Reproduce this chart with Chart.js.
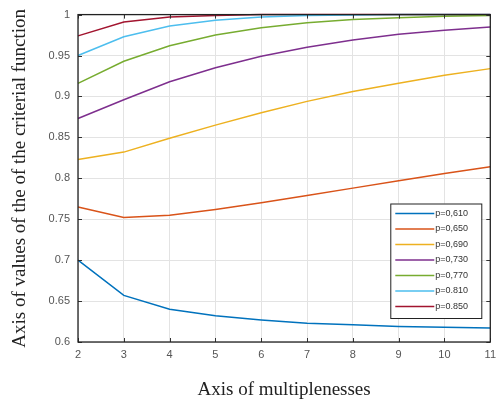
<!DOCTYPE html>
<html>
<head>
<meta charset="utf-8">
<script src="https://cdn.jsdelivr.net/npm/chart.js@4/dist/chart.umd.min.js"></script>
<style>
  html, body { margin: 0; padding: 0; background: #fff; }
  #wrap { width: 502px; height: 405px; }
</style>
</head>
<body>
<div id="wrap"><canvas id="chart" width="502" height="405"></canvas></div>
<script>
// multipleness values on the x axis
const multipleness = [2, 3, 4, 5, 6, 7, 8, 9, 10, 11];

// criterial function values, one array per p
const p610 = [0.700, 0.657, 0.640, 0.632, 0.627, 0.623, 0.621, 0.619, 0.618, 0.617];
const p650 = [0.765, 0.752, 0.755, 0.762, 0.770, 0.779, 0.788, 0.797, 0.806, 0.814];
const p690 = [0.823, 0.832, 0.849, 0.865, 0.880, 0.894, 0.906, 0.916, 0.926, 0.934];
const p730 = [0.873, 0.896, 0.918, 0.935, 0.949, 0.960, 0.969, 0.976, 0.981, 0.985];
const p770 = [0.916, 0.943, 0.962, 0.975, 0.984, 0.990, 0.994, 0.996, 0.998, 0.999];
const p810 = [0.950, 0.973, 0.986, 0.993, 0.997, 0.999, 0.9995, 1.0, 1.0, 1.0];
const p850 = [0.974, 0.991, 0.997, 0.999, 1.0, 1.0, 1.0, 1.0, 1.0, 1.0];

const seriesLabels = ['p=0,610', 'p=0,650', 'p=0,690', 'p=0,730', 'p=0,770', 'p=0.810', 'p=0.850'];
const seriesValues = [p610, p650, p690, p730, p770, p810, p850];
const seriesColors = ['#0072BD', '#D95319', '#EDB120', '#7E2F8E', '#77AC30', '#4DBEEE', '#A2142F'];

const yTicks = [0.6, 0.65, 0.7, 0.75, 0.8, 0.85, 0.9, 0.95, 1];

// legend box inside the plot, bottom right, matlab style
const boxLegend = {
  id: 'boxLegend',
  afterDraw(chart) {
    const ctx = chart.ctx;
    const area = chart.chartArea;
    const sets = chart.data.datasets;
    const w = 91, rowH = 15.5;
    const h = sets.length * rowH + 6;
    const x0 = area.right - 9 - w;
    const y0 = area.bottom - 24 - h;
    ctx.save();
    ctx.fillStyle = '#fff';
    ctx.fillRect(x0, y0, w, h);
    ctx.strokeStyle = '#222';
    ctx.lineWidth = 1;
    ctx.strokeRect(x0 + 0.5, y0 + 0.5, w, h);
    ctx.font = '9px "Liberation Sans", Arial, sans-serif';
    ctx.textBaseline = 'middle';
    ctx.textAlign = 'left';
    sets.forEach((ds, i) => {
      const cy = y0 + 10 + i * rowH;
      ctx.strokeStyle = ds.borderColor;
      ctx.lineWidth = 1.5;
      ctx.beginPath();
      ctx.moveTo(x0 + 5, cy);
      ctx.lineTo(x0 + 44, cy);
      ctx.stroke();
      ctx.fillStyle = '#333';
      ctx.fillText(ds.label, x0 + 45, cy);
    });
    ctx.restore();
  }
};

// frame with inward tick marks
const frameTicks = {
  id: 'frameTicks',
  afterDatasetsDraw(chart) {
    const ctx = chart.ctx;
    const a = chart.chartArea;
    const xs = chart.scales.x, ys = chart.scales.y;
    ctx.save();
    ctx.strokeStyle = '#333';
    ctx.lineWidth = 1;
    ctx.beginPath();
    xs.ticks.forEach((t, i) => {
      const px = Math.round(xs.getPixelForTick(i)) + 0.5;
      ctx.moveTo(px, a.bottom); ctx.lineTo(px, a.bottom - 4);
      ctx.moveTo(px, a.top); ctx.lineTo(px, a.top + 4);
    });
    ys.ticks.forEach(t => {
      const py = Math.round(ys.getPixelForValue(t.value)) + 0.5;
      ctx.moveTo(a.left, py); ctx.lineTo(a.left + 4, py);
      ctx.moveTo(a.right, py); ctx.lineTo(a.right - 4, py);
    });
    ctx.stroke();
    ctx.lineWidth = 1.3;
    ctx.strokeStyle = '#222';
    ctx.strokeRect(a.left, a.top, a.right - a.left, a.bottom - a.top);
    ctx.restore();
  }
};

new Chart(document.getElementById('chart'), {
  type: 'line',
  data: {
    labels: multipleness,
    datasets: seriesValues.map((vals, i) => ({
      label: seriesLabels[i],
      data: vals,
      borderColor: seriesColors[i],
      backgroundColor: seriesColors[i],
      borderWidth: 1.5,
      pointRadius: 0,
      tension: 0,
      clip: 2
    }))
  },
  options: {
    responsive: false,
    animation: false,
    layout: { padding: { top: 13, right: 4, left: 0, bottom: 0 } },
    plugins: { legend: { display: false }, tooltip: { enabled: false } },
    scales: {
      x: {
        offset: false,
        grid: { color: '#e3e3e3', drawTicks: false, lineWidth: 1 },
        border: { display: false },
        ticks: { color: '#555', font: { family: '"Liberation Sans", Arial, sans-serif', size: 11 }, padding: 6, maxRotation: 0 },
        title: {
          display: true,
          text: 'Axis of multiplenesses',
          color: '#222',
          font: { family: '"Liberation Serif", "Times New Roman", serif', size: 19 },
          padding: { top: 0, bottom: 4 }
        },
        afterFit(scale) { scale.height = 63; }
      },
      y: {
        min: 0.6,
        max: 1,
        afterBuildTicks(scale) { scale.ticks = yTicks.map(v => ({ value: v })); },
        grid: { color: '#e3e3e3', drawTicks: false, lineWidth: 1 },
        border: { display: false },
        ticks: {
          color: '#555',
          font: { family: '"Liberation Sans", Arial, sans-serif', size: 11 },
          padding: 8,
          callback: v => String(Number(v.toFixed(2)))
        },
        title: {
          display: true,
          text: 'Axis of values of the of the criterial function',
          color: '#222',
          font: { family: '"Liberation Serif", "Times New Roman", serif', size: 19 },
          padding: { top: 9, bottom: 0 }
        },
        afterFit(scale) { scale.width = 78; }
      }
    }
  },
  plugins: [frameTicks, boxLegend]
});
</script>
</body>
</html>
